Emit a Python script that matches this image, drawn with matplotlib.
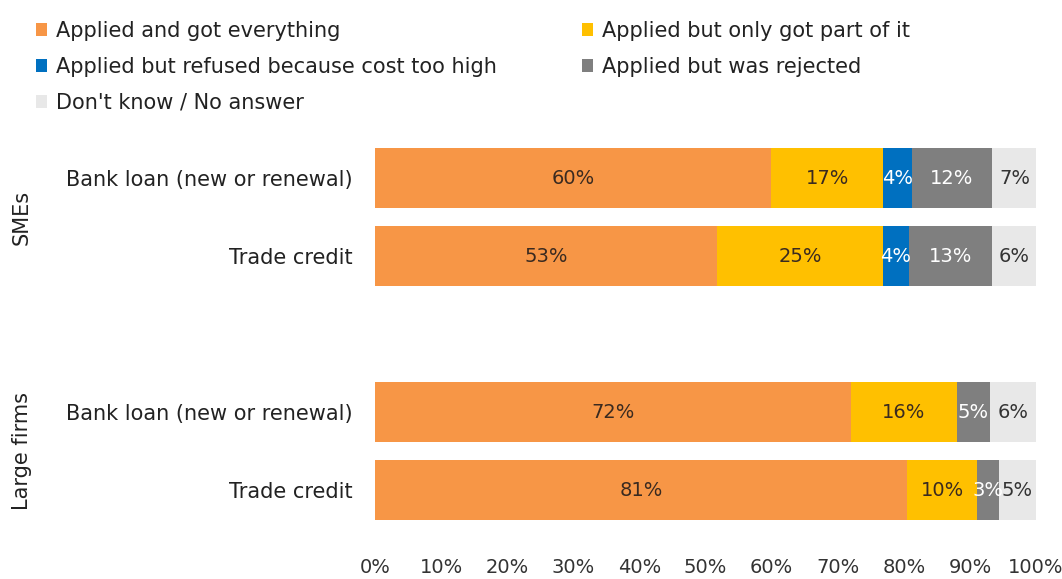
import matplotlib
matplotlib.use("Agg")
import matplotlib.pyplot as plt
from matplotlib.patches import Patch
import numpy as np

# ---- data ----
categories = ["Bank loan (new or renewal)", "Trade credit",
              "Bank loan (new or renewal)", "Trade credit"]
groups = ["SMEs", "Large firms"]
series_names = ["Applied and got everything",
                "Applied but only got part of it",
                "Applied but refused because cost too high",
                "Applied but was rejected",
                "Don't know / No answer"]
got_everything = [59.9, 51.8, 72.0, 80.5]
got_part = [17.0, 25.0, 16.0, 10.6]
refused_cost = [4.3, 4.0, 0.0, 0.0]
rejected = [12.1, 12.6, 5.1, 3.3]
dont_know = [6.9, 6.6, 6.9, 5.6]
labels_everything = ["60%", "53%", "72%", "81%"]
labels_part = ["17%", "25%", "16%", "10%"]
labels_refused = ["4%", "4%", "", ""]
labels_rejected = ["12%", "13%", "5%", "3%"]
labels_dont_know = ["7%", "6%", "6%", "5%"]
xticks = [0, 10, 20, 30, 40, 50, 60, 70, 80, 90, 100]
xtick_labels = ["0%", "10%", "20%", "30%", "40%", "50%", "60%", "70%", "80%", "90%", "100%"]

# ---- style ----
colors = ["#F79646", "#FFC000", "#0070C0", "#7F7F7F", "#E8E8E8"]
text_colors = ["#3a2a20", "#3a2a20", "white", "white", "#333333"]
FS = 15
plt.rcParams['font.family'] = ['DejaVu Sans']

fig = plt.figure(figsize=(10.62, 5.79), dpi=100)
ax = fig.add_axes([375/1062, 1-555/579, (1036-375)/1062, (555-131.2)/579])

ypos = [0, 1, 3, 4]
series = [got_everything, got_part, refused_cost, rejected, dont_know]
series_labels = [labels_everything, labels_part, labels_refused, labels_rejected, labels_dont_know]
left = np.zeros(len(ypos))
for vals, lab, col, tcol, name in zip(series, series_labels, colors, text_colors, series_names):
    vals = np.array(vals)
    ax.barh(ypos, vals, left=left, height=0.77, color=col, label=name, linewidth=0)
    for y, l, v, t in zip(ypos, left, vals, lab):
        if t:
            ax.text(l + v/2, y, t, ha='center', va='center', color=tcol, fontsize=14)
    left = left + vals

ax.set_xlim(0, 100)
ax.set_ylim(4.83, -0.6)
ax.set_xticks(xticks)
ax.set_xticklabels(xtick_labels, fontsize=14, color="#333333")
ax.set_yticks(ypos)
ax.set_yticklabels(categories, fontsize=FS, color="#222222")
ax.tick_params(axis='both', length=0)
ax.tick_params(axis='y', pad=16)
ax.tick_params(axis='x', pad=2)
for s in ax.spines.values():
    s.set_visible(False)

# group labels
fig.text(22/1062, 1-217/579, groups[0], rotation=90, ha='center', va='center', fontsize=FS, color="#222222")
fig.text(22/1062, 1-451/579, groups[1], rotation=90, ha='center', va='center', fontsize=FS, color="#222222")

# legends
handles = [Patch(facecolor=c, edgecolor='none') for c in colors]
common = dict(loc='upper left', frameon=False, fontsize=FS, handlelength=0.55, handleheight=0.55,
              handletextpad=0.4, labelspacing=0.76, borderaxespad=0, borderpad=0)
leg1 = fig.legend([handles[0], handles[2], handles[4]],
                  [series_names[0], series_names[2], series_names[4]],
                  bbox_to_anchor=(36/1062, 1-21/579), **common)
leg2 = fig.legend([handles[1], handles[3]],
                  [series_names[1], series_names[3]],
                  bbox_to_anchor=(582/1062, 1-21/579), **common)
for leg in (leg1, leg2):
    for t in leg.get_texts():
        t.set_color("#222222")

fig.savefig("out.png", dpi=100, facecolor="white")
